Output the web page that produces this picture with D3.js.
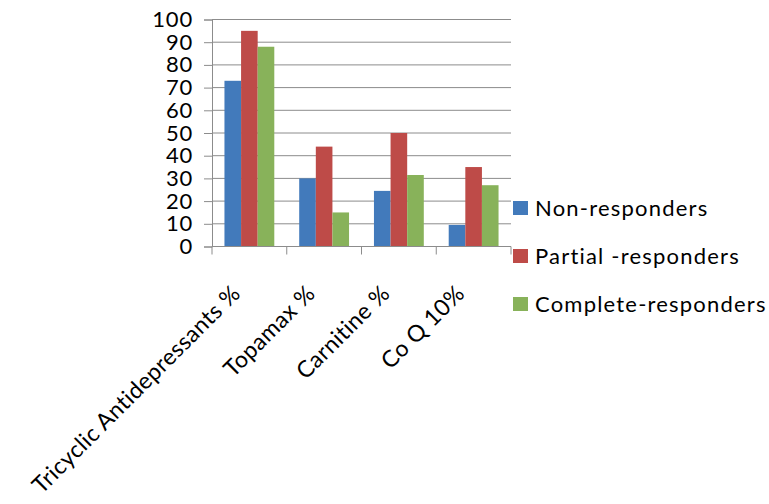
<!DOCTYPE html>
<html>
<head>
<meta charset="utf-8">
<script src="https://cdn.jsdelivr.net/npm/d3@7"></script>
<style>
  body { margin: 0; background: #fff; }
  text { font-family: Lato, "Open Sans", sans-serif; fill: #000; }
</style>
</head>
<body>
<div id="chart"></div>
<script>
// chart data
const categories = ["Tricyclic Antidepressants %", "Topamax %", "Carnitine %", "Co Q 10%"];
const seriesNames = ["Non-responders", "Partial -responders", "Complete-responders"];
const nonResponders = [73, 30, 24.5, 9.5];
const partialResponders = [95, 44, 50, 35];
const completeResponders = [88, 15, 31.5, 27];
const yTicks = [0, 10, 20, 30, 40, 50, 60, 70, 80, 90, 100];
const colors = ["#427ABB", "#BE4B48", "#88B25A"];

const width = 769, height = 504;
const plotLeft = 212, plotRight = 511, plotTop = 19.5, plotBottom = 246.5;

const svg = d3.select("#chart").append("svg")
    .attr("width", width)
    .attr("height", height);

const x = d3.scaleBand()
    .domain(categories)
    .range([plotLeft, plotRight]);

const y = d3.scaleLinear()
    .domain([0, 100])
    .range([plotBottom, plotTop]);

// bars take 3 of 4.5 bar widths (gap width 150%)
const barW = x.bandwidth() / 4.5;

// grid lines
svg.append("g")
    .selectAll("line")
    .data(yTicks.filter(d => d > 0))
    .enter()
    .append("line")
    .attr("x1", plotLeft)
    .attr("x2", plotRight)
    .attr("y1", d => y(d))
    .attr("y2", d => y(d))
    .attr("stroke", "#8c8c8c")
    .attr("stroke-width", 1);

// y axis
const yAxis = svg.append("g")
    .attr("transform", `translate(${plotLeft},0)`)
    .call(d3.axisLeft(y).tickValues(yTicks).tickSize(8).tickPadding(11));
yAxis.select(".domain").attr("stroke", "#8c8c8c");
yAxis.selectAll(".tick line").attr("stroke", "#8c8c8c");
yAxis.selectAll(".tick text")
    .style("font-size", "22px")
    .style("letter-spacing", "0.8px")
    .attr("fill", "#000");

// bars
const series = [nonResponders, partialResponders, completeResponders];
series.forEach((vals, s) => {
    svg.append("g")
        .selectAll("rect")
        .data(vals)
        .enter()
        .append("rect")
        .attr("x", (d, i) => x(categories[i]) + barW * 0.75 + s * barW)
        .attr("y", d => y(d))
        .attr("width", barW)
        .attr("height", d => y(0) - y(d))
        .attr("fill", colors[s]);
});

// x axis
const xAxis = svg.append("g")
    .attr("transform", `translate(0,${plotBottom})`);
xAxis.append("line")
    .attr("x1", plotLeft).attr("x2", plotRight)
    .attr("stroke", "#8c8c8c");
const bounds = categories.map(c => x(c)).concat([plotRight]);
xAxis.selectAll(".tk")
    .data(bounds)
    .enter()
    .append("line")
    .attr("x1", d => d).attr("x2", d => d)
    .attr("y1", 0).attr("y2", 8)
    .attr("stroke", "#8c8c8c");

xAxis.selectAll(".lbl")
    .data(categories)
    .enter()
    .append("text")
    .attr("transform", d => `translate(${x(d) + x.bandwidth() / 2 - 19},${37}) rotate(-45)`)
    .attr("text-anchor", "end")
    .attr("dy", "0.7em")
    .style("font-size", "23px")
    .style("letter-spacing", "0.4px")
    .text(d => d);

// legend
const legend = svg.append("g");
seriesNames.forEach((name, i) => {
    const ly = 208 + i * 48;
    legend.append("rect")
        .attr("x", 513)
        .attr("y", ly - 7)
        .attr("width", 15)
        .attr("height", 14)
        .attr("fill", colors[i]);
    legend.append("text")
        .attr("x", 535)
        .attr("y", ly)
        .attr("dy", "0.35em")
        .style("font-size", "22px")
        .style("letter-spacing", "1.2px")
        .text(name);
});
</script>
</body>
</html>
